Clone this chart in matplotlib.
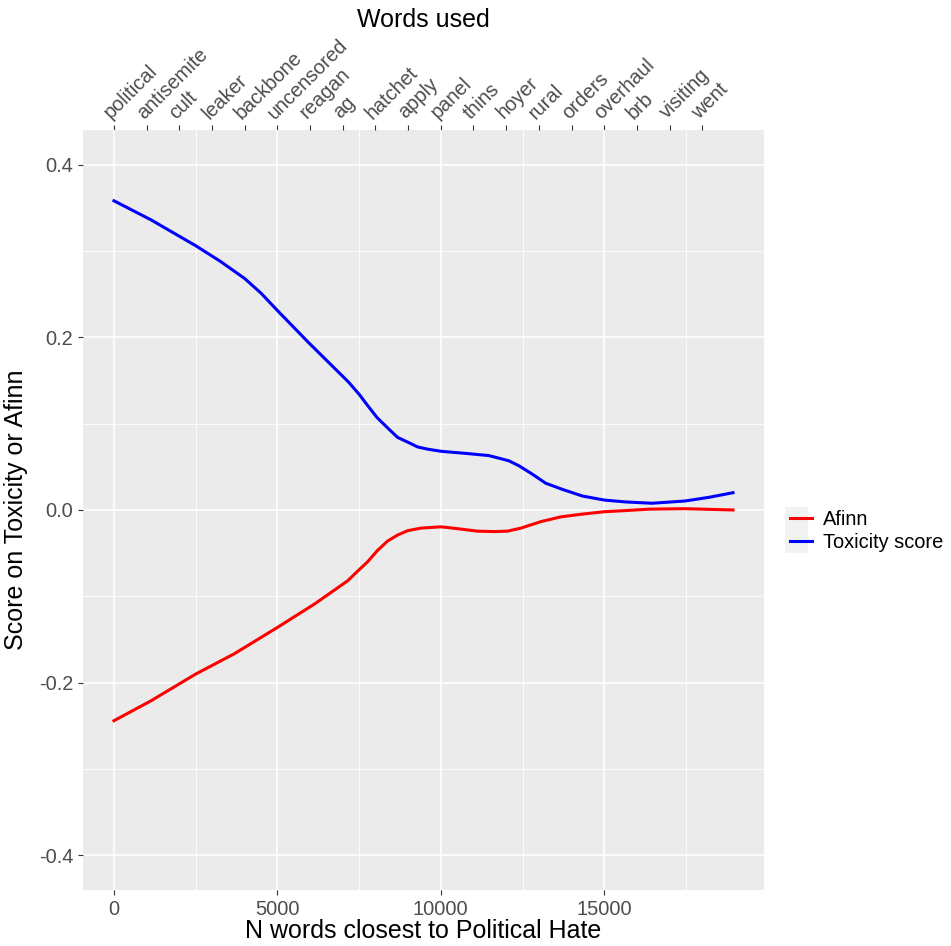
import matplotlib
matplotlib.use("Agg")
import matplotlib.pyplot as plt
from matplotlib.patches import Rectangle
from matplotlib.lines import Line2D

plt.rcParams['font.family'] = ['Liberation Sans', 'DejaVu Sans']

# words on the top axis, one every 1000 words
words = ['political', 'antisemite', 'cult', 'leaker', 'backbone', 'uncensored',
         'reagan', 'ag', 'hatchet', 'apply', 'panel', 'thins', 'hoyer', 'rural',
         'orders', 'overhaul', 'brb', 'visiting', 'went']
word_pos = [1000 * i for i in range(len(words))]

# smoothed toxicity score
tox_x = [0, 1130, 2500, 3250, 4000, 4500, 5000, 5950, 7180, 7500, 7760, 8050,
         8400, 8680, 9020, 9290, 9590, 10000, 10770, 11470, 12080, 12400,
         12800, 13210, 13710, 14330, 15000, 15660, 16460, 17470, 18210, 18940]
tox_y = [0.358, 0.336, 0.306, 0.288, 0.268, 0.251, 0.231, 0.194, 0.148, 0.134,
         0.121, 0.107, 0.094, 0.084, 0.078, 0.073, 0.0705, 0.068, 0.0655,
         0.063, 0.057, 0.051, 0.0415, 0.031, 0.024, 0.0162, 0.0115, 0.0093,
         0.0078, 0.0104, 0.0147, 0.020]

# smoothed Afinn score
afinn_x = [0, 1130, 2500, 3680, 5000, 6130, 7150, 7450, 7760, 8060, 8370,
           8680, 8980, 9390, 10000, 10260, 11120, 11630, 12040, 12450, 13060,
           13670, 14280, 15000, 15600, 16380, 17470, 18940]
afinn_y = [-0.244, -0.221, -0.190, -0.1665, -0.136, -0.109, -0.082, -0.071,
           -0.060, -0.047, -0.036, -0.029, -0.024, -0.021, -0.0195, -0.0205,
           -0.0245, -0.025, -0.0245, -0.021, -0.0135, -0.008, -0.005, -0.002,
           -0.0008, 0.001, 0.0015, 0.0]

y_ticks = [-0.4, -0.2, 0.0, 0.2, 0.4]
y_labels = ['-0.4', '-0.2', '0.0', '0.2', '0.4']
x_ticks = [0, 5000, 10000, 15000]

fig = plt.figure(figsize=(9.51, 9.46), dpi=100)
ax = fig.add_axes([0.0873, 0.0592, 0.716, 0.8034])
ax.set_facecolor('#EBEBEB')
for s in ax.spines.values():
    s.set_visible(False)

ax.plot(afinn_x, afinn_y, color='#FF0000', lw=2.2, solid_joinstyle='round')
ax.plot(tox_x, tox_y, color='#0000FF', lw=2.2, solid_joinstyle='round')

xmax = 18940
ax.set_xlim(-0.05 * xmax, 1.05 * xmax)
ax.set_ylim(-0.44, 0.44)

ax.set_xticks(x_ticks)
ax.set_xticks([2500, 7500, 12500, 17500], minor=True)
ax.set_yticks(y_ticks, y_labels)
ax.set_yticks([-0.3, -0.1, 0.1, 0.3], minor=True)
ax.grid(which='major', color='white', lw=1.2)
ax.grid(which='minor', color='white', lw=0.6)
ax.set_axisbelow(True)
ax.tick_params(which='major', colors='#333333', labelcolor='#4D4D4D',
               labelsize=14.4, length=3.5, width=0.8)
ax.tick_params(which='minor', length=0)

ax.set_xlabel('N words closest to Political Hate', fontsize=18, labelpad=0)
ax.set_ylabel('Score on Toxicity or Afinn', fontsize=18, labelpad=8)

# top axis with the words
top = ax.secondary_xaxis('top')
top.set_xticks(word_pos, words)
for sp in top.spines.values():
    sp.set_visible(False)
top.tick_params(colors='#333333', labelcolor='#4D4D4D', labelsize=14.4,
                length=3.5, width=0.8, pad=2)
for lab in top.get_xticklabels():
    lab.set_rotation(45)
    lab.set_ha('left')
    lab.set_va('bottom')
    lab.set_rotation_mode('anchor')
top.set_xlabel('Words used', fontsize=18, labelpad=6)

# legend, drawn like ggplot's key boxes
fig.patches.append(Rectangle((785 / 951, 1 - 553 / 946), 23 / 951, 46 / 946,
                             transform=fig.transFigure, facecolor='#F2F2F2',
                             edgecolor='none'))
handles = [Line2D([], [], color='#FF0000', lw=2.2),
           Line2D([], [], color='#0000FF', lw=2.2)]
fig.legend(handles, ['Afinn', 'Toxicity score'], loc='center left',
           bbox_to_anchor=(780 / 951, 1 - 531 / 946), frameon=False,
           fontsize=14.4, handlelength=1.1, handletextpad=0.55,
           labelspacing=0.2, borderpad=0)

fig.savefig('out.png', dpi=100)
